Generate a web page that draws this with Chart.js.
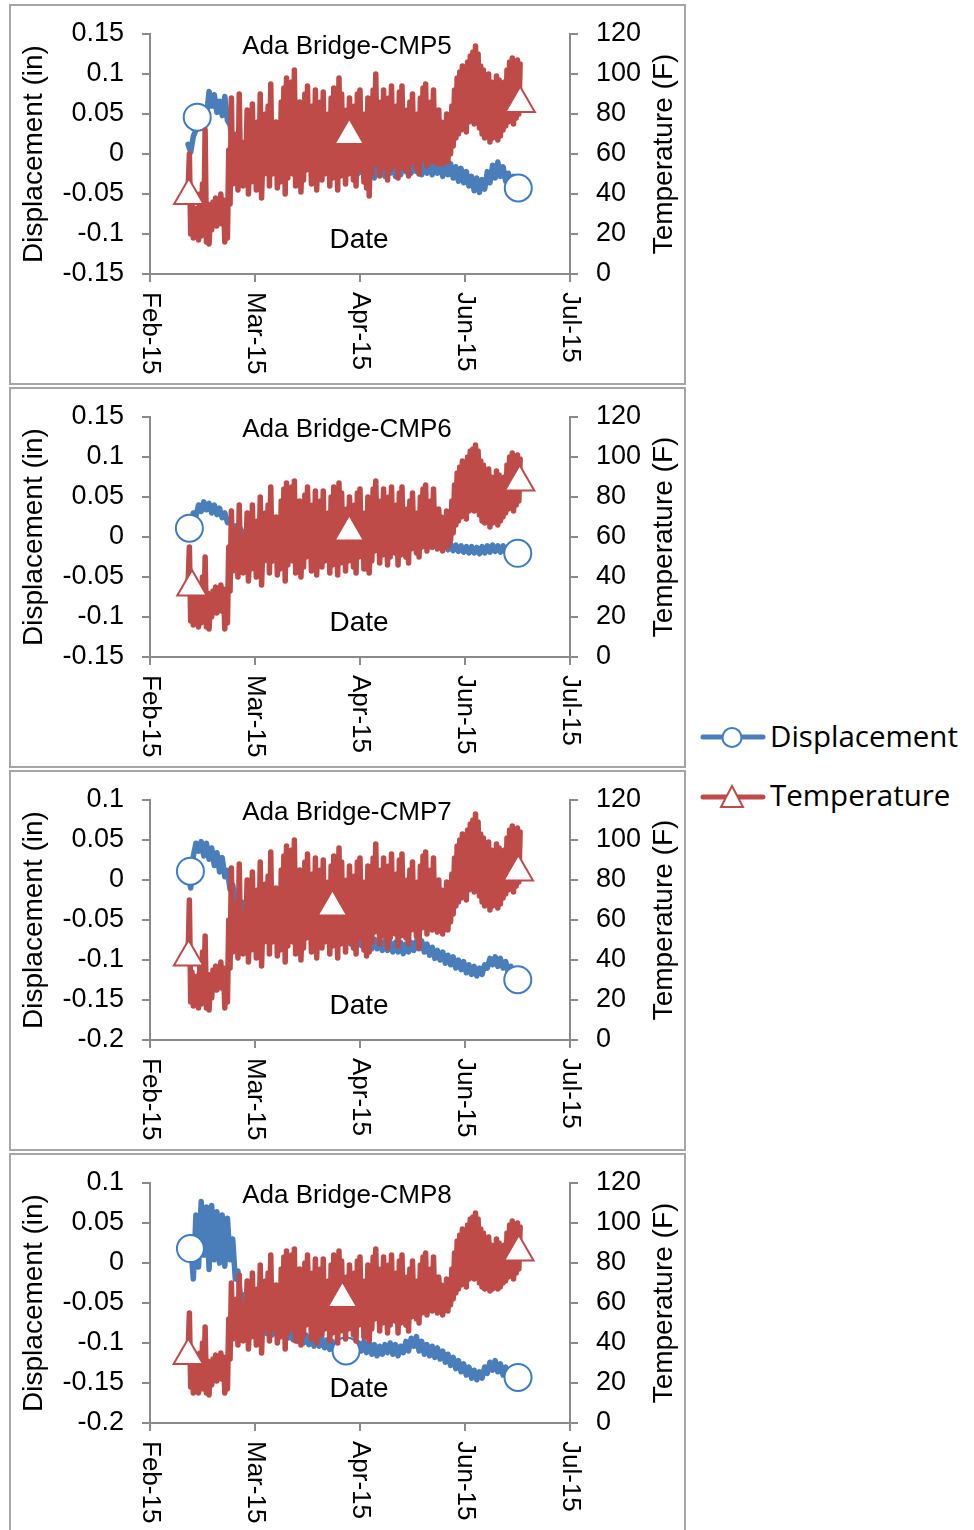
<!DOCTYPE html>
<html>
<head>
<meta charset="utf-8">
<script src="https://cdn.jsdelivr.net/npm/chart.js@4.4.0/dist/chart.umd.min.js"></script>
<style>
  html, body { margin: 0; padding: 0; background: #fff; }
  body { position: relative; width: 974px; height: 1530px; overflow: hidden; }
  canvas.panel { position: absolute; left: 10px; }
  .frame { position: absolute; left: 9px; width: 677px; height: 381px; border: 2px solid #a5a5a5; box-sizing: border-box; pointer-events: none; }
  #legend { position: absolute; left: 690px; top: 700px; }
</style>
</head>
<body>
<canvas class="panel" id="c0" width="675" height="380" style="top:5px"></canvas>
<canvas class="panel" id="c1" width="675" height="380" style="top:388px"></canvas>
<canvas class="panel" id="c2" width="675" height="380" style="top:771px"></canvas>
<canvas class="panel" id="c3" width="675" height="380" style="top:1154px"></canvas>
<div class="frame" style="top:4px"></div>
<div class="frame" style="top:387px"></div>
<div class="frame" style="top:770px"></div>
<div class="frame" style="top:1153px"></div>

<svg id="legend" width="284" height="130" xmlns="http://www.w3.org/2000/svg">
  <line x1="13" y1="37" x2="73" y2="37" stroke="#4a7ebb" stroke-width="5" stroke-linecap="round"/>
  <circle cx="42" cy="37.5" r="9.5" fill="#fff" stroke="#3c7bc5" stroke-width="2"/>
  <text x="80" y="47" font-family="'Open Sans', 'Noto Sans', sans-serif" font-size="29.5" fill="#000">Displacement</text>
  <line x1="13" y1="97" x2="73" y2="97" stroke="#be4b48" stroke-width="5" stroke-linecap="round"/>
  <polygon points="42,86 31,107 53,107" fill="#fff" stroke="#be4b48" stroke-width="2"/>
  <text x="80" y="106" font-family="'Open Sans', 'Noto Sans', sans-serif" font-size="29.5" fill="#000">Temperature</text>
</svg>

<script>
// x = days since 1 Feb 2015; one sample pair per day from 15 Feb
const startDay = 14.5;
const xTickDays = [0, 40, 80, 120, 160];
const xTickLabels = ["Feb-15", "Mar-15", "Apr-15", "Jun-15", "Jul-15"];
const tempTicks = ["0", "20", "40", "60", "80", "100", "120"];
const dispTicksA = ["-0.15", "-0.1", "-0.05", "0", "0.05", "0.1", "0.15"];
const dispTicksB = ["-0.2", "-0.15", "-0.1", "-0.05", "0", "0.05", "0.1"];
const titles = ["Ada Bridge-CMP5", "Ada Bridge-CMP6", "Ada Bridge-CMP7", "Ada Bridge-CMP8"];

// ---- CMP5 ----
const tLo5 = [41,20,18,21,17,19,20,16,15,22, 26,24,27,25,16,18,35,45,52,42, 48,44,54,40,46,52,42,47,38,50,
  53,44,50,55,43,46,52,40,48,54, 50,44,56,41,47,52,58,45,51,42, 54,47,50,56,44,48,55,42,49,53,
  45,50,57,47,44,52,56,46,43,39, 50,55,58,49,53,56,47,52,57,54, 48,53,58,52,49,56,60,53,50,57,
  58,54,60,56,58,55,57,55,58,56, 60,64,68,70,72,74,71,76,78,75, 77,73,70,68,70,66,68,70,67,69,
  72,74,76,78,75,78,80];
const tHi5 = [60,36,30,33,40,45,72,35,30,36, 38,34,40,37,33,62,88,60,70,90, 66,64,82,58,85,62,76,90,60,80,
  84,95,66,76,64,86,93,98,68,96, 102,74,86,64,90,94,70,84,92,66, 86,91,72,80,88,93,66,98,90,70,
  82,88,64,84,90,92,70,80,88,66, 92,100,76,86,92,68,88,94,72,84, 91,94,70,82,86,90,66,80,88,93,
  95,72,86,92,70,82,76,66,80,74, 84,92,98,101,104,100,106,109,111,114, 110,104,102,98,100,96,94,99,97,92,
  96,102,106,108,104,107,105];
const disp5 = [0.012,0.002,0.022,0.030,0.048,0.038,0.058,0.046,0.078,0.060,
  0.074,0.052,0.066,0.048,0.072,0.042,0.036,0.014,0.022,0.006,
  0.012,-0.002,0.008,-0.006,0.004,-0.008,0.006,-0.010,0.002,-0.012,
  0.000,-0.010,0.004,-0.012,0.000,-0.014,-0.002,-0.012,0.002,-0.010,
  -0.002,-0.016,-0.004,-0.014,-0.002,-0.016,-0.006,-0.018,-0.004,-0.016,
  -0.006,-0.020,-0.004,-0.018,-0.006,-0.020,-0.008,-0.022,-0.006,-0.020,
  -0.008,-0.022,-0.010,-0.026,-0.008,-0.024,-0.010,-0.028,-0.012,-0.026,
  -0.010,-0.030,-0.006,-0.026,-0.008,-0.028,-0.004,-0.024,-0.008,-0.028,
  -0.006,-0.026,-0.002,-0.022,-0.004,-0.024,0.000,-0.022,-0.004,-0.026,
  -0.002,-0.024,-0.006,-0.026,-0.004,-0.024,-0.008,-0.028,-0.010,-0.026,
  -0.012,-0.030,-0.016,-0.034,-0.018,-0.036,-0.022,-0.040,-0.028,-0.046,
  -0.030,-0.048,-0.032,-0.044,-0.022,-0.036,-0.014,-0.030,-0.010,-0.028,
  -0.016,-0.034,-0.024,-0.040,-0.028,-0.044,-0.036];
const dispMarks5 = [[18.0, 0.046], [140.3, -0.0425]];
const tempMarks5 = [[14.8, 39.3], [75.9, 69.3], [141.0, 85.2]];

// ---- CMP6 ----
const tLo6 = [36,18,16,19,15,17,18,15,14,20, 24,22,25,23,14,17,33,43,50,40, 46,42,52,38,44,50,40,45,36,48,
  51,42,48,53,41,44,50,38,46,52, 48,42,54,40,45,50,56,43,49,41, 52,45,48,54,42,46,53,41,47,51,
  43,48,55,45,42,50,54,44,44,42, 48,53,56,47,51,54,46,50,55,52, 46,51,56,50,47,54,58,52,50,55,
  56,53,58,55,57,54,55,53,56,55, 58,62,66,68,70,72,69,73,75,73, 74,71,68,67,69,65,67,69,66,68,
  70,72,74,76,73,76,78];
const tHi6 = [55,32,28,31,36,40,50,32,28,33, 35,31,36,34,30,55,73,56,64,76, 60,58,72,54,76,58,68,80,56,72,
  76,85,62,70,60,78,84,87,62,85, 88,66,78,60,81,85,64,76,83,62, 78,83,66,72,80,85,62,87,82,64,
  74,80,60,76,82,84,64,72,80,62, 84,88,70,78,84,62,80,85,66,76, 82,85,64,74,78,82,62,72,80,84,
  86,66,78,84,64,74,70,62,73,70, 78,86,92,95,98,95,100,103,104,106, 103,98,96,92,94,90,88,93,91,87,
  90,96,100,102,98,101,99];
const disp6 = [0.011,0.018,0.030,0.026,0.040,0.032,0.044,0.034,0.042,0.030,
  0.040,0.028,0.036,0.024,0.030,0.018,0.022,0.012,0.014,0.006,
  0.010,0.002,0.008,0.000,0.008,0.001,0.007,-0.001,0.006,0.000,
  0.007,-0.001,0.006,-0.002,0.006,0.000,0.005,-0.002,0.006,-0.001,
  0.004,-0.003,0.005,-0.002,0.004,-0.003,0.004,-0.004,0.003,-0.003,
  0.003,-0.004,0.003,-0.004,0.002,-0.005,0.002,-0.005,0.001,-0.006,
  0.001,-0.006,0.000,-0.007,0.000,-0.008,-0.001,-0.008,0.000,-0.009,
  -0.002,-0.009,-0.001,-0.010,-0.002,-0.009,-0.001,-0.010,-0.003,-0.010,
  -0.002,-0.010,-0.003,-0.011,-0.002,-0.010,-0.003,-0.011,-0.004,-0.012,
  -0.004,-0.012,-0.005,-0.013,-0.006,-0.014,-0.007,-0.015,-0.008,-0.016,
  -0.009,-0.017,-0.010,-0.018,-0.011,-0.019,-0.012,-0.020,-0.012,-0.020,
  -0.013,-0.021,-0.012,-0.020,-0.011,-0.019,-0.010,-0.018,-0.011,-0.019,
  -0.011,-0.019,-0.012,-0.020,-0.013,-0.021,-0.020];
const dispMarks6 = [[15.0, 0.011], [140.1, -0.0204]];
const tempMarks6 = [[16.0, 35.0], [75.9, 62.5], [140.8, 87.5]];

// ---- CMP7 ----
const tLo7 = [41,19,17,20,16,18,19,16,15,21, 27,25,28,26,16,19,36,44,51,41, 47,43,53,39,45,51,41,46,37,49,
  52,43,49,54,42,45,51,39,47,53, 49,43,55,40,46,51,57,44,50,41, 53,46,49,55,43,47,54,41,48,52,
  44,49,56,46,43,51,55,45,42,44, 49,54,57,48,52,55,46,51,56,53, 47,52,57,51,48,55,59,52,46,56,
  57,53,59,55,57,54,56,53,57,55, 59,63,67,69,71,73,70,75,77,74, 76,72,69,67,69,65,67,69,66,68,
  71,73,75,77,74,77,79];
const tHi7 = [70,34,29,32,38,44,52,33,29,35, 37,33,39,36,32,60,86,60,68,88, 64,63,80,58,84,62,75,89,60,78,
  82,94,66,76,63,85,92,97,66,95, 100,72,85,63,89,93,68,83,91,65, 85,90,70,79,87,92,65,96,89,68,
  80,87,63,82,89,91,68,79,87,65, 91,98,74,85,91,67,87,93,70,83, 90,93,68,80,85,89,65,79,87,92,
  94,70,85,91,68,80,75,65,79,73, 83,91,97,100,103,99,105,108,110,113, 109,103,101,97,99,95,93,98,96,91,
  95,101,105,107,103,106,104];
const disp7 = [0.005,-0.010,0.030,0.046,0.036,0.048,0.030,0.046,0.026,0.040,
  0.018,0.034,0.010,0.028,0.004,0.012,-0.012,-0.006,-0.024,-0.018,
  -0.034,-0.028,-0.040,-0.032,-0.044,-0.036,-0.048,-0.040,-0.050,-0.042,
  -0.054,-0.044,-0.056,-0.046,-0.058,-0.048,-0.060,-0.050,-0.062,-0.052,
  -0.064,-0.054,-0.066,-0.056,-0.068,-0.058,-0.068,-0.060,-0.070,-0.060,
  -0.072,-0.062,-0.072,-0.064,-0.074,-0.064,-0.076,-0.066,-0.076,-0.066,
  -0.078,-0.068,-0.080,-0.070,-0.082,-0.070,-0.082,-0.072,-0.084,-0.074,
  -0.086,-0.074,-0.086,-0.076,-0.088,-0.076,-0.088,-0.078,-0.090,-0.078,
  -0.090,-0.078,-0.092,-0.080,-0.090,-0.078,-0.088,-0.076,-0.086,-0.076,
  -0.090,-0.080,-0.094,-0.084,-0.098,-0.088,-0.100,-0.090,-0.104,-0.094,
  -0.106,-0.096,-0.110,-0.100,-0.112,-0.102,-0.116,-0.106,-0.118,-0.108,
  -0.120,-0.110,-0.118,-0.106,-0.110,-0.098,-0.106,-0.096,-0.108,-0.098,
  -0.110,-0.102,-0.116,-0.108,-0.120,-0.114,-0.124];
const dispMarks7 = [[15.4, 0.011], [140.1, -0.1246]];
const tempMarks7 = [[14.7, 41.5], [69.5, 66.5], [140.3, 84.0]];

// ---- CMP8 ----
const tLo8 = [35,18,15,18,15,17,17,15,14,19, 23,21,24,22,15,17,32,42,49,39, 45,41,51,37,43,49,39,44,35,47,
  50,41,47,52,40,43,49,37,45,51, 47,41,53,39,44,49,55,42,48,40, 51,44,47,53,41,45,52,40,46,50,
  42,47,54,44,41,49,53,43,43,41, 47,52,55,46,50,53,45,49,54,51, 45,50,55,49,46,53,57,52,50,55,
  57,54,58,56,58,55,57,54,58,56, 59,62,65,67,69,71,68,72,74,72, 73,70,68,67,69,66,67,69,67,68,
  70,71,73,75,72,75,77];
const tHi8 = [55,31,28,30,35,40,48,31,28,32, 34,30,35,33,29,52,70,55,62,74, 59,57,71,53,75,57,67,79,55,71,
  75,84,61,69,59,77,83,86,61,84, 87,65,77,59,80,84,63,75,82,61, 77,82,65,71,79,84,61,86,81,63,
  73,79,59,75,81,83,63,71,79,61, 83,87,69,77,83,61,79,84,65,75, 81,84,63,73,77,81,61,71,79,83,
  85,65,77,83,63,73,69,61,72,69, 77,85,91,94,97,94,99,102,103,105, 102,97,95,91,93,89,87,92,90,86,
  89,95,99,101,97,100,98];
const disp8 = [0.019,0.024,-0.020,0.060,-0.005,0.077,0.010,0.070,-0.008,0.072,
  0.004,0.064,0.000,0.060,-0.004,0.056,0.004,0.030,-0.020,-0.010,
  -0.046,-0.040,-0.062,-0.056,-0.074,-0.066,-0.080,-0.072,-0.084,-0.076,
  -0.088,-0.078,-0.090,-0.080,-0.090,-0.080,-0.092,-0.082,-0.094,-0.084,
  -0.096,-0.086,-0.098,-0.088,-0.100,-0.090,-0.102,-0.092,-0.104,-0.094,
  -0.104,-0.094,-0.106,-0.096,-0.108,-0.098,-0.110,-0.098,-0.112,-0.100,
  -0.112,-0.100,-0.114,-0.102,-0.112,-0.100,-0.110,-0.098,-0.112,-0.100,
  -0.114,-0.102,-0.116,-0.104,-0.114,-0.102,-0.112,-0.100,-0.114,-0.102,
  -0.116,-0.104,-0.112,-0.098,-0.110,-0.094,-0.104,-0.092,-0.110,-0.098,
  -0.114,-0.102,-0.116,-0.104,-0.118,-0.106,-0.120,-0.110,-0.124,-0.114,
  -0.128,-0.118,-0.132,-0.122,-0.136,-0.126,-0.140,-0.130,-0.144,-0.134,
  -0.146,-0.136,-0.144,-0.130,-0.138,-0.124,-0.134,-0.122,-0.136,-0.126,
  -0.140,-0.130,-0.144,-0.134,-0.146,-0.138,-0.142];
const dispMarks8 = [[15.4, 0.018], [74.7, -0.110], [140.2, -0.143]];
const tempMarks8 = [[14.6, 33.8], [73.3, 62.2], [140.5, 85.5]];

const BLUE = "#4a7ebb";
const BLUE_MARK = "#3c7bc5";
const RED = "#be4b48";
const AXIS = "#8a8a8a";
const FONT = '"Liberation Sans", Arial, sans-serif';

Chart.defaults.font.family = FONT;
Chart.defaults.color = "#000";

// daily low then daily high, in time order
function tempSeries(lo, hi) {
    let pts = [];
    for (let i = 0; i < lo.length; i++) {
        pts.push({ x: startDay + i, y: lo[i] });
        pts.push({ x: startDay + i + 0.5, y: hi[i] });
    }
    return pts;
}

function dispSeries(vals) {
    return vals.map((v, i) => ({ x: startDay + i, y: v }));
}

function marks(list) {
    return list.map(p => ({ x: p[0], y: p[1] }));
}

function tickLabel(labels, min, step) {
    return v => labels[Math.round((v - min) / step)];
}

// titles drawn straight onto the canvas (Excel places them inside the plot)
const panelText = {
    id: "panelText",
    afterDraw(chart, args, opts) {
        const ctx = chart.ctx;
        const a = chart.chartArea;
        ctx.save();
        ctx.fillStyle = "#000";
        ctx.textAlign = "center";
        ctx.textBaseline = "alphabetic";
        ctx.font = "26px " + FONT;
        ctx.fillText(opts.title, a.left + 197, a.top + 19.5);
        ctx.font = "28px " + FONT;
        ctx.fillText("Date", a.left + 209, a.bottom - 26.3);

        // secondary axis title reads bottom to top
        ctx.save();
        ctx.translate(chart.width - 21, (a.top + a.bottom) / 2);
        ctx.rotate(-Math.PI / 2);
        ctx.textBaseline = "middle";
        ctx.fillText("Temperature (F)", 0, 0);
        ctx.restore();

        // date labels read top to bottom
        const xs = chart.scales.x;
        ctx.font = "26px " + FONT;
        ctx.textAlign = "left";
        ctx.textBaseline = "middle";
        xs.ticks.forEach(t => {
            const k = xTickDays.indexOf(Math.round(t.value));
            if (k < 0) return;
            ctx.save();
            ctx.translate(xs.getPixelForValue(t.value), a.bottom + 18);
            ctx.rotate(Math.PI / 2);
            ctx.fillText(xTickLabels[k], 0, 0);
            ctx.restore();
        });
        ctx.restore();
    }
};

function makePanel(n, tLo, tHi, disp, dMarks, tMarks, dMin, dMax, dLabels) {
    const axisGrid = { display: true, drawOnChartArea: false, drawTicks: true, tickLength: 8, color: AXIS, lineWidth: 2 };
    const axisBorder = { display: true, color: AXIS, width: 2 };
    new Chart(document.getElementById("c" + n), {
        type: "line",
        data: {
            datasets: [
                {
                    label: "Temperature markers", data: marks(tMarks), yAxisID: "yT", order: 0,
                    showLine: false, pointStyle: "triangle", pointRadius: 17,
                    borderColor: RED, pointBorderWidth: 2, backgroundColor: "#fff"
                },
                {
                    label: "Temperature", data: tempSeries(tLo, tHi), yAxisID: "yT", order: 1,
                    borderColor: RED, borderWidth: 5.5, pointRadius: 0, tension: 0,
                    borderJoinStyle: "round", borderCapStyle: "round", fill: false
                },
                {
                    label: "Displacement markers", data: marks(dMarks), yAxisID: "yD", order: 2,
                    showLine: false, pointStyle: "circle", pointRadius: 13.5,
                    borderColor: BLUE_MARK, pointBorderWidth: 2, backgroundColor: "#fff"
                },
                {
                    label: "Displacement", data: dispSeries(disp), yAxisID: "yD", order: 3,
                    borderColor: BLUE, borderWidth: 5.5, pointRadius: 0, tension: 0,
                    borderJoinStyle: "round", borderCapStyle: "round", fill: false
                }
            ]
        },
        options: {
            responsive: false,
            animation: false,
            events: [],
            layout: { padding: { top: 29, left: 0, right: 0, bottom: 0 } },
            plugins: {
                legend: { display: false },
                tooltip: { enabled: false },
                panelText: { title: titles[n] }
            },
            scales: {
                x: {
                    type: "linear", min: 0, max: 160,
                    ticks: { stepSize: 40, display: false },
                    grid: axisGrid, border: axisBorder,
                    afterFit(s) { s.height = 111; }
                },
                yD: {
                    position: "left", min: dMin, max: dMax,
                    ticks: { stepSize: 0.05, autoSkip: false, padding: 18, font: { size: 27 },
                             callback: tickLabel(dLabels, dMin, 0.05) },
                    title: { display: true, text: "Displacement (in)", font: { size: 28 }, padding: { top: 7, bottom: 0 } },
                    grid: axisGrid, border: axisBorder,
                    afterFit(s) { s.width = 140; s.paddingTop = 0; s.paddingBottom = 0; }
                },
                yT: {
                    position: "right", min: 0, max: 120,
                    ticks: { stepSize: 20, autoSkip: false, padding: 18, font: { size: 27 },
                             callback: tickLabel(tempTicks, 0, 20) },
                    grid: axisGrid, border: axisBorder,
                    afterFit(s) { s.width = 115; s.paddingTop = 0; s.paddingBottom = 0; }
                }
            }
        },
        plugins: [panelText]
    });
}

makePanel(0, tLo5, tHi5, disp5, dispMarks5, tempMarks5, -0.15, 0.15, dispTicksA);
makePanel(1, tLo6, tHi6, disp6, dispMarks6, tempMarks6, -0.15, 0.15, dispTicksA);
makePanel(2, tLo7, tHi7, disp7, dispMarks7, tempMarks7, -0.2, 0.1, dispTicksB);
makePanel(3, tLo8, tHi8, disp8, dispMarks8, tempMarks8, -0.2, 0.1, dispTicksB);
</script>
</body>
</html>
